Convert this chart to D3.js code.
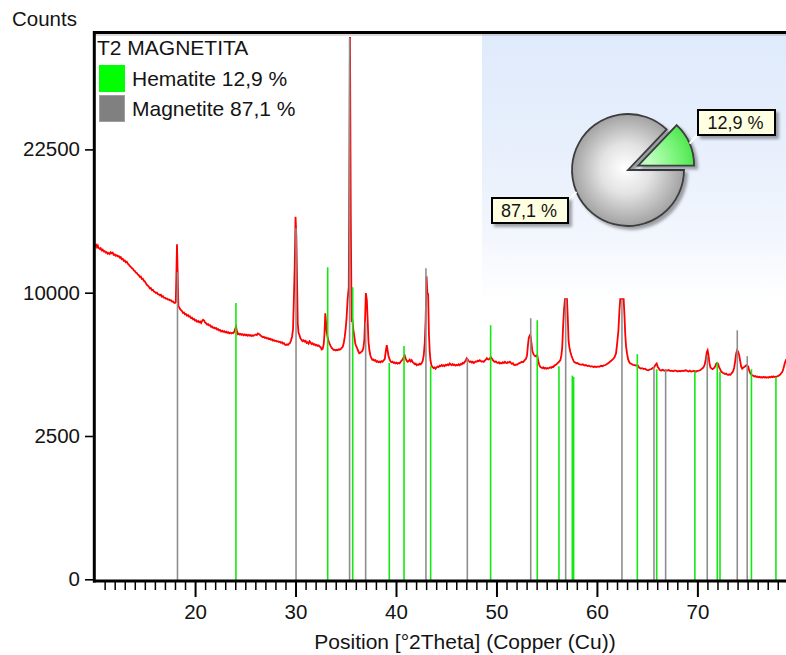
<!DOCTYPE html>
<html>
<head>
<meta charset="utf-8">
<script src="https://cdn.jsdelivr.net/npm/d3@7"></script>
<style>
  html, body { margin: 0; padding: 0; background: #ffffff; }
  svg { display: block; font-family: "Liberation Sans", Arial, sans-serif; }
</style>
</head>
<body>
<svg id="chart" width="786" height="655"></svg>
<script>
// ---- sample / phase information ----
const sampleName = "T2 MAGNETITA";
const phaseNames = ["Hematite", "Magnetite"];
const phaseShare = [12.9, 87.1];
const phaseColors = ["#00ff00", "#808080"];

// ---- axis ticks ----
const yTickValues = [0, 2500, 10000, 22500];
const xTickValues = [20, 30, 40, 50, 60, 70];
const xAxisTitle = "Position [°2Theta] (Copper (Cu))";
const yAxisTitle = "Counts";

// ---- reference patterns (stick positions in °2θ and heights in counts) ----
const hematiteTheta  = [24.07, 33.20, 35.69, 39.33, 40.80, 43.45, 49.42, 54.06, 56.22, 57.55, 57.68, 64.02, 65.95, 69.75, 71.98, 72.25, 75.38, 77.82];
const hematiteCounts = [9300, 11860, 10390, 5700, 6630, 5520, 7860, 8170, 5520, 5050, 4990, 6170, 5370, 5270, 5750, 5250, 5370, 4970];
const magnetiteTheta  = [18.25, 30.05, 35.38, 36.98, 42.98, 47.10, 53.41, 56.89, 62.49, 65.68, 66.84, 70.98, 73.97, 74.96];
const magnetiteCounts = [11480, 15010, 35660, 8050, 11780, 5950, 8300, 9550, 9550, 5480, 5370, 6060, 7550, 6060];

// ---- measured profile: [°2θ, counts] ----
const profilePoints = [
  [10.00,13650],[10.08,13520],[10.16,13600],[10.24,13430],[10.32,13560],[10.40,13380],[10.50,13300],[10.60,13350],[10.70,13180],[10.80,13240],
  [10.90,13090],[11.00,13120],[11.10,12990],[11.20,13030],[11.30,12900],[11.40,12960],[11.50,12880],[11.60,13020],[11.70,12930],[11.80,12990],
  [11.90,12820],[12.00,12850],[12.10,12740],[12.20,12790],[12.30,12700],[12.40,12720],[12.50,12600],[12.60,12640],[12.70,12480],[12.80,12500],
  [12.90,12350],[13.00,12380],[13.10,12240],[13.20,12280],[13.30,12120],[13.40,12050],[13.50,11950],[13.60,11880],[13.70,11800],[13.80,11750],
  [13.90,11620],[14.00,11580],[14.10,11460],[14.20,11420],[14.30,11300],[14.40,11260],[14.50,11130],[14.60,11150],[14.70,10980],[14.80,11000],
  [14.90,10850],[15.00,10800],[15.10,10680],[15.20,10560],[15.30,10500],[15.40,10420],[15.50,10300],[15.60,10320],[15.70,10180],[15.80,10200],
  [15.90,10080],[16.00,10050],[16.10,9980],[16.20,10010],[16.30,9890],[16.40,9880],[16.50,9820],[16.60,9860],[16.70,9720],[16.80,9760],
  [16.90,9650],[17.00,9640],[17.10,9580],[17.20,9600],[17.30,9520],[17.40,9530],[17.50,9470],[17.60,9480],[17.70,9390],[17.80,9400],
  [17.90,9320],[18.00,9300],[18.08,9350],[18.14,11260],[18.20,13670],[18.27,11400],[18.34,9100],[18.42,9000],[18.50,8900],[18.60,8820],
  [18.70,8760],[18.80,8640],[18.90,8660],[19.00,8540],[19.10,8560],[19.20,8460],[19.30,8500],[19.40,8400],[19.50,8420],[19.60,8300],
  [19.70,8330],[19.80,8220],[19.90,8250],[20.00,8150],[20.10,8180],[20.20,8080],[20.30,8120],[20.40,8040],[20.50,8090],[20.60,8000],
  [20.70,8120],[20.80,8200],[20.90,8150],[21.00,8020],[21.10,7990],[21.20,7900],[21.30,7930],[21.40,7840],[21.50,7860],[21.60,7760],
  [21.70,7780],[21.80,7690],[21.90,7720],[22.00,7660],[22.10,7680],[22.20,7590],[22.30,7620],[22.40,7540],[22.50,7560],[22.60,7480],
  [22.70,7520],[22.80,7450],[22.90,7490],[23.00,7420],[23.10,7460],[23.20,7400],[23.30,7440],[23.40,7370],[23.50,7410],[23.60,7360],
  [23.70,7400],[23.80,7380],[23.90,7450],[24.00,7650],[24.08,7760],[24.16,7500],[24.25,7320],[24.35,7350],[24.45,7290],[24.55,7330],
  [24.65,7270],[24.75,7310],[24.85,7250],[24.95,7300],[25.05,7240],[25.15,7280],[25.25,7220],[25.35,7270],[25.45,7230],[25.55,7260],
  [25.65,7200],[25.75,7250],[25.85,7220],[25.95,7270],[26.05,7300],[26.15,7260],[26.25,7360],[26.35,7330],[26.45,7280],[26.55,7220],
  [26.65,7180],[26.75,7130],[26.85,7160],[26.95,7090],[27.05,7110],[27.15,7060],[27.25,7080],[27.35,7020],[27.45,7050],[27.55,6990],
  [27.65,7010],[27.75,6940],[27.85,6970],[27.95,6910],[28.05,6930],[28.15,6880],[28.25,6900],[28.35,6850],[28.45,6870],[28.55,6810],
  [28.65,6840],[28.75,6760],[28.85,6790],[28.95,6700],[29.05,6680],[29.15,6720],[29.25,6690],[29.35,6750],[29.45,6800],[29.55,6950],
  [29.65,7150],[29.75,7600],[29.82,9150],[29.92,12000],[30.00,16000],[30.08,14400],[30.16,10500],[30.22,7980],[30.30,7400],[30.40,7250],
  [30.50,7050],[30.60,6980],[30.70,6900],[30.80,6950],[30.90,6880],[31.00,6920],[31.10,6800],[31.20,6840],[31.30,6760],[31.40,6900],
  [31.50,6820],[31.60,6740],[31.70,6780],[31.80,6700],[31.90,6730],[32.00,6660],[32.10,6690],[32.20,6630],[32.30,6660],[32.40,6600],
  [32.50,6560],[32.60,6430],[32.70,6460],[32.80,6700],[32.88,7300],[32.96,8620],[33.04,8000],[33.10,7450],[33.20,7100],[33.30,6900],
  [33.40,6750],[33.50,6620],[33.60,6520],[33.70,6460],[33.80,6400],[33.90,6420],[34.00,6380],[34.10,6410],[34.20,6390],[34.30,6440],
  [34.40,6420],[34.50,6460],[34.60,6520],[34.70,6580],[34.80,6800],[34.90,7150],[35.00,7700],[35.08,8300],[35.18,9500],[35.30,10400],
  [35.42,35790],[35.50,16140],[35.58,8070],[35.66,8170],[35.75,7600],[35.85,7200],[35.95,6750],[36.05,6600],[36.15,6480],[36.25,6330],
  [36.35,6220],[36.45,6250],[36.55,6300],[36.65,6350],[36.75,6500],[36.85,7000],[36.92,8170],[37.00,9970],[37.10,9480],[37.18,8170],
  [37.26,6900],[37.35,6400],[37.45,6100],[37.55,5950],[37.65,5860],[37.75,5880],[37.85,5820],[37.95,5850],[38.05,5760],[38.15,5790],
  [38.25,5740],[38.35,5770],[38.45,5730],[38.55,5790],[38.65,5760],[38.75,5820],[38.88,5900],[39.00,6400],[39.08,6670],[39.16,6400],
  [39.26,6050],[39.36,5900],[39.46,5780],[39.56,5740],[39.66,5770],[39.76,5700],[39.86,5730],[39.96,5680],[40.06,5710],[40.16,5660],
  [40.26,5700],[40.36,5680],[40.46,5760],[40.56,5820],[40.66,5880],[40.76,6000],[40.86,6110],[40.96,5950],[41.06,5820],[41.16,5760],
  [41.26,5800],[41.36,5870],[41.46,5780],[41.56,5850],[41.66,5740],[41.76,5700],[41.86,5640],[41.96,5660],[42.06,5580],[42.16,5620],
  [42.26,5600],[42.36,5660],[42.46,5630],[42.56,5700],[42.66,5800],[42.76,6100],[42.86,6800],[42.95,8170],[43.04,11185],[43.12,10000],
  [43.20,9900],[43.28,7300],[43.36,6300],[43.44,5800],[43.54,5550],[43.64,5480],[43.74,5430],[43.84,5460],[43.94,5400],[44.04,5470],
  [44.14,5510],[44.24,5480],[44.34,5560],[44.44,5530],[44.54,5590],[44.64,5540],[44.74,5580],[44.84,5530],[44.94,5600],[45.04,5570],
  [45.14,5620],[45.24,5580],[45.34,5670],[45.44,5620],[45.54,5590],[45.64,5640],[45.74,5580],[45.84,5610],[45.94,5560],[46.04,5600],
  [46.14,5570],[46.24,5630],[46.34,5580],[46.44,5640],[46.54,5620],[46.64,5700],[46.74,5680],[46.84,5760],[46.94,5820],[47.04,5950],
  [47.14,5880],[47.24,5800],[47.34,5750],[47.44,5780],[47.54,5720],[47.64,5760],[47.74,5700],[47.84,5740],[47.94,5780],[48.04,5760],
  [48.14,5820],[48.24,5790],[48.34,5840],[48.44,5800],[48.54,5760],[48.64,5790],[48.74,5760],[48.84,5820],[48.94,5870],[49.04,5950],
  [49.14,5900],[49.24,5880],[49.34,5940],[49.44,6020],[49.54,5930],[49.64,5850],[49.74,5790],[49.84,5750],[49.94,5780],[50.04,5720],
  [50.14,5700],[50.24,5740],[50.34,5670],[50.44,5710],[50.54,5680],[50.64,5740],[50.74,5700],[50.84,5760],[50.94,5710],[51.04,5690],
  [51.14,5740],[51.24,5720],[51.34,5760],[51.44,5700],[51.54,5650],[51.64,5680],[51.74,5600],[51.84,5580],[51.94,5620],[52.04,5600],
  [52.14,5650],[52.24,5680],[52.34,5700],[52.44,5730],[52.54,5760],[52.64,5740],[52.74,5800],[52.84,5860],[52.94,5920],[53.04,6100],
  [53.14,6700],[53.22,7100],[53.32,7250],[53.40,7200],[53.48,6800],[53.56,6390],[53.66,6200],[53.76,6110],[53.86,6050],[53.96,6090],
  [54.06,6110],[54.16,5800],[54.26,5600],[54.36,5490],[54.46,5460],[54.56,5430],[54.66,5470],[54.76,5410],[54.86,5440],[54.96,5400],
  [55.06,5430],[55.16,5410],[55.26,5450],[55.36,5470],[55.46,5440],[55.56,5500],[55.66,5490],[55.76,5560],[55.86,5580],[55.96,5620],
  [56.06,5680],[56.16,5720],[56.26,5780],[56.36,5850],[56.46,6100],[56.54,6500],[56.62,7600],[56.72,8820],[56.82,9550],[56.92,9550],
  [57.02,9550],[57.10,8300],[57.18,6900],[57.26,6550],[57.36,6290],[57.46,6100],[57.56,5950],[57.66,5820],[57.76,5740],[57.86,5720],
  [57.96,5680],[58.06,5700],[58.16,5650],[58.30,5620],[58.45,5600],[58.60,5630],[58.75,5570],[58.90,5590],[59.05,5540],[59.20,5560],
  [59.35,5510],[59.50,5530],[59.65,5490],[59.80,5510],[59.95,5480],[60.10,5520],[60.25,5500],[60.40,5550],[60.55,5530],[60.70,5570],
  [60.85,5590],[61.00,5640],[61.15,5700],[61.30,5760],[61.45,5830],[61.60,5900],[61.75,6000],[61.90,6210],[62.02,6800],[62.14,7550],
  [62.24,8800],[62.32,9550],[62.50,9550],[62.66,9550],[62.74,8500],[62.82,7300],[62.90,6600],[63.00,6200],[63.10,5900],[63.20,5760],
  [63.30,5680],[63.45,5640],[63.60,5600],[63.75,5580],[63.90,5560],[64.05,5580],[64.20,5460],[64.35,5410],[64.50,5430],[64.65,5380],
  [64.80,5400],[64.95,5340],[65.10,5320],[65.25,5360],[65.40,5380],[65.55,5430],[65.70,5480],[65.85,5620],[65.95,5670],[66.05,5500],
  [66.15,5420],[66.25,5330],[66.40,5310],[66.55,5340],[66.70,5290],[66.85,5320],[67.00,5300],[67.15,5330],[67.30,5280],[67.45,5300],
  [67.60,5270],[67.75,5310],[67.90,5290],[68.05,5260],[68.20,5290],[68.35,5270],[68.50,5300],[68.65,5280],[68.80,5320],[68.95,5300],
  [69.10,5260],[69.25,5300],[69.40,5250],[69.55,5270],[69.70,5290],[69.85,5250],[70.00,5290],[70.15,5300],[70.30,5330],[70.45,5400],
  [70.60,5460],[70.72,5600],[70.84,5900],[70.94,6290],[71.02,6390],[71.10,6150],[71.20,5700],[71.30,5450],[71.40,5420],[71.50,5380],
  [71.60,5410],[71.70,5450],[71.80,5560],[71.88,5670],[71.96,5700],[72.06,5650],[72.16,5480],[72.26,5380],[72.36,5260],[72.46,5220],
  [72.56,5180],[72.66,5160],[72.76,5130],[72.86,5150],[72.96,5110],[73.06,5080],[73.16,5120],[73.26,5090],[73.36,5140],[73.46,5200],
  [73.56,5280],[73.66,5450],[73.76,5800],[73.86,6210],[73.96,6390],[74.06,6300],[74.16,6110],[74.26,5800],[74.36,5500],[74.46,5400],
  [74.56,5450],[74.66,5490],[74.76,5520],[74.86,5580],[74.96,5560],[75.06,5500],[75.16,5300],[75.26,5180],[75.36,5100],[75.46,5070],
  [75.56,5040],[75.66,5010],[75.76,5030],[75.86,4990],[75.96,5010],[76.06,4970],[76.16,4990],[76.26,4960],[76.36,4980],[76.46,4950],
  [76.56,4990],[76.66,4960],[76.76,4980],[76.86,4950],[76.96,4970],[77.06,4950],[77.16,4990],[77.26,4960],[77.36,5000],[77.46,4970],
  [77.56,5010],[77.66,4980],[77.76,5000],[77.86,4990],[77.96,5020],[78.06,5040],[78.16,5070],[78.26,5110],[78.36,5180],[78.46,5240],
  [78.56,5400],[78.66,5600],[78.76,5780],[78.86,5900]
];

// ---- layout ----
const plot = { left: 94.6, right: 786, top: 32.5, bottom: 579.3 };
const baseY = 581;                 // x axis line
const textColor = "#141414";
const fmtPct = d3.formatLocale({ decimal: ",", thousands: ".", grouping: [3], currency: ["", ""] }).format(".1f");

const x = d3.scaleLinear().domain([10, 78.82]).range([plot.left, plot.right]);
const y = d3.scaleSqrt().domain([0, 36400]).range([plot.bottom, plot.top]);

const svg = d3.select("#chart");
const defs = svg.append("defs");

// plot clip
defs.append("clipPath").attr("id", "plotClip")
  .append("rect").attr("x", plot.left).attr("y", plot.top).attr("width", plot.right - plot.left).attr("height", baseY - plot.top);

// pie panel background gradient
const panelGrad = defs.append("linearGradient").attr("id", "panelGrad").attr("x1", 0).attr("y1", 0).attr("x2", 0).attr("y2", 1);
[[0, "#dfeafb"], [0.4, "#e7effc"], [0.75, "#f2f6fd"], [1, "#ffffff"]].forEach(([o, c]) =>
  panelGrad.append("stop").attr("offset", o).attr("stop-color", c));

// drop shadow
const shadow = defs.append("filter").attr("id", "shadow").attr("x", "-20%").attr("y", "-20%").attr("width", "150%").attr("height", "150%");
shadow.append("feDropShadow").attr("dx", 3).attr("dy", 3).attr("stdDeviation", 1.6)
  .attr("flood-color", "#000").attr("flood-opacity", 0.35);

// pie panel
svg.append("rect")
  .attr("x", 482).attr("y", plot.top + 1.5).attr("width", plot.right - 482).attr("height", 268)
  .attr("fill", "url(#panelGrad)");

// ---- profile ----
const plotG = svg.append("g").attr("clip-path", "url(#plotClip)");
plotG.append("path")
  .datum(profilePoints)
  .attr("fill", "none")
  .attr("stroke", "#ff0000")
  .attr("stroke-width", 1.8)
  .attr("stroke-linejoin", "miter")
  .attr("d", d3.line().x(d => x(d[0])).y(d => y(d[1])));

// ---- reference sticks ----
function drawSticks(theta, counts, color, cls) {
  plotG.selectAll("line." + cls)
    .data(d3.zip(theta, counts))
    .join("line")
    .attr("class", cls)
    .attr("x1", d => x(d[0])).attr("x2", d => x(d[0]))
    .attr("y1", baseY).attr("y2", d => y(d[1]))
    .attr("stroke", color)
    .attr("stroke-width", 1.6);
}
drawSticks(magnetiteTheta, magnetiteCounts, "#8e8e8e", "mag");
drawSticks(hematiteTheta, hematiteCounts, "#12e812", "hem");

// ---- axes ----
const yAxisG = svg.append("g").attr("transform", "translate(93,0)")
  .call(d3.axisLeft(y).tickValues(yTickValues).tickSize(8).tickPadding(5).tickFormat(d3.format("d")));
yAxisG.select(".domain").remove();
yAxisG.selectAll(".tick line").attr("stroke", "#000").attr("stroke-width", 1.6);
yAxisG.selectAll(".tick text").attr("fill", textColor).style("font-size", "20.5px").style("font-family", "Liberation Sans, Arial, sans-serif");

const minorTicks = d3.range(11, 79, 1).filter(v => v % 10 !== 0);
const xMinorG = svg.append("g").attr("transform", `translate(0,${baseY})`)
  .call(d3.axisBottom(x).tickValues(minorTicks).tickSize(9).tickFormat(""));
xMinorG.select(".domain").remove();
xMinorG.selectAll(".tick line").attr("stroke", "#000").attr("stroke-width", 1.5);

const xAxisG = svg.append("g").attr("transform", `translate(0,${baseY})`)
  .call(d3.axisBottom(x).tickValues(xTickValues).tickSize(16).tickPadding(7).tickFormat(d3.format("d")));
xAxisG.select(".domain").remove();
xAxisG.selectAll(".tick line").attr("stroke", "#000").attr("stroke-width", 2);
xAxisG.selectAll(".tick text").attr("fill", textColor).style("font-size", "20.5px").style("font-family", "Liberation Sans, Arial, sans-serif");

// frame lines
svg.append("line").attr("x1", 93).attr("x2", plot.right).attr("y1", plot.top).attr("y2", plot.top)
  .attr("stroke", "#000").attr("stroke-width", 3);
svg.append("line").attr("x1", 93).attr("x2", plot.right).attr("y1", plot.top + 2.5).attr("y2", plot.top + 2.5)
  .attr("stroke", "#b4b4b4").attr("stroke-width", 1);
svg.append("line").attr("x1", 94.3).attr("x2", 94.3).attr("y1", plot.top - 1.5).attr("y2", baseY + 1.5)
  .attr("stroke", "#000").attr("stroke-width", 3);
svg.append("line").attr("x1", 93).attr("x2", plot.right).attr("y1", baseY).attr("y2", baseY)
  .attr("stroke", "#000").attr("stroke-width", 3);

// axis titles
svg.append("text").attr("x", 12).attr("y", 26).attr("fill", textColor)
  .style("font-size", "20.5px").text(yAxisTitle);
svg.append("text").attr("x", 465).attr("y", 649).attr("text-anchor", "middle").attr("fill", textColor)
  .style("font-size", "21px").text(xAxisTitle);

// ---- legend ----
const legend = svg.append("g");
legend.append("text").attr("x", 97).attr("y", 55).attr("fill", textColor)
  .style("font-size", "21px").text(sampleName);
const legendRows = legend.selectAll("g.row")
  .data(phaseNames.map((n, i) => ({ name: n, share: phaseShare[i], color: phaseColors[i] })))
  .join("g").attr("class", "row")
  .attr("transform", (d, i) => `translate(0,${i * 30})`);
legendRows.append("rect")
  .attr("x", 99.5).attr("y", 65.5).attr("width", 25).attr("height", 26)
  .attr("fill", d => d.color)
  .attr("stroke", d => d3.color(d.color).brighter(0.6))
  .attr("stroke-width", 1);
legendRows.append("text")
  .attr("x", 132).attr("y", 86).attr("fill", textColor)
  .style("font-size", "21px")
  .text(d => `${d.name} ${fmtPct(d.share)} %`);

// ---- phase pie ----
const pieCx = 628, pieCy = 170, pieR = 56, explode = 11;
const pieG = svg.append("g").attr("transform", `translate(${pieCx},${pieCy})`);

// slices clockwise from east: Magnetite first, then Hematite
const pieData = [1, 0].map(i => ({ name: phaseNames[i], share: phaseShare[i], idx: i }));
const arcs = d3.pie().sort(null).value(d => d.share)
  .startAngle(Math.PI / 2).endAngle(Math.PI / 2 + 2 * Math.PI)(pieData);
const arcGen = d3.arc().innerRadius(0).outerRadius(pieR);

const greyGrad = defs.append("radialGradient").attr("id", "greySlice")
  .attr("gradientUnits", "userSpaceOnUse").attr("cx", 0).attr("cy", 0).attr("r", pieR)
  .attr("fx", -4).attr("fy", -2);
[[0, "#ffffff"], [0.45, "#e3e3e3"], [1, "#a2a2a2"]].forEach(([o, c]) =>
  greyGrad.append("stop").attr("offset", o).attr("stop-color", c));

function offsetOf(a) {
  if (a.data.idx !== 0) return [0, 0];
  const mid = (a.startAngle + a.endAngle) / 2;
  return [Math.sin(mid) * explode, -Math.cos(mid) * explode];
}
const hemArc = arcs.find(a => a.data.idx === 0);
const [hox, hoy] = offsetOf(hemArc);
const greenGrad = defs.append("radialGradient").attr("id", "greenSlice")
  .attr("gradientUnits", "userSpaceOnUse").attr("cx", hox).attr("cy", hoy).attr("r", pieR);
[[0, "#c4ffc4"], [0.5, "#7af57a"], [1, "#36dd36"]].forEach(([o, c]) =>
  greenGrad.append("stop").attr("offset", o).attr("stop-color", c));

pieG.selectAll("path.slice")
  .data(arcs)
  .join("path")
  .attr("class", "slice")
  .attr("transform", d => { const [ox, oy] = offsetOf(d); return `translate(${ox},${oy})`; })
  .attr("d", arcGen)
  .attr("fill", d => d.data.idx === 0 ? "url(#greenSlice)" : "url(#greySlice)")
  .attr("stroke", "#3c3c3c")
  .attr("stroke-width", 1.8)
  .attr("stroke-linejoin", "miter")
  .attr("filter", "url(#shadow)");

// percentage call-outs
const callouts = [
  { idx: 0, bx: 70, by: -60, bw: 77, bh: 25 },
  { idx: 1, bx: -136, by: 28, bw: 76, bh: 25 }
];
callouts.forEach(c => {
  const a = arcs.find(d => d.data.idx === c.idx);
  const [ox, oy] = offsetOf(a);
  const mid = (a.startAngle + a.endAngle) / 2;
  const px = ox + Math.sin(mid) * pieR, py = oy - Math.cos(mid) * pieR;
  const tx = c.idx === 0 ? c.bx : c.bx + c.bw;
  const ty = c.idx === 0 ? c.by + c.bh - 1 : c.by + 2;
  pieG.append("line").attr("x1", px).attr("y1", py).attr("x2", tx).attr("y2", ty)
    .attr("stroke", "#ffffff").attr("stroke-width", 2);
  pieG.append("rect").attr("x", c.bx).attr("y", c.by).attr("width", c.bw).attr("height", c.bh)
    .attr("fill", "#ffffe1").attr("stroke", "#000").attr("stroke-width", 2)
    .attr("filter", "url(#shadow)");
  pieG.append("text").attr("x", c.bx + c.bw / 2 - 1).attr("y", c.by + 18.5)
    .attr("text-anchor", "middle").attr("fill", textColor)
    .style("font-size", "18px")
    .text(`${fmtPct(phaseShare[c.idx])} %`);
});
</script>
</body>
</html>
